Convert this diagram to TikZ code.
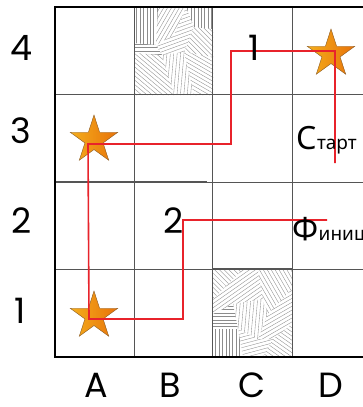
\documentclass[tikz,border=0pt]{standalone}
\usepackage{fontspec}
\setmainfont{Poppins}
\newfontfamily\cyr{Noto Sans}
\usetikzlibrary{shapes.geometric}
\definecolor{redpath}{HTML}{E8232B}
\definecolor{starL}{HTML}{F4AE1C}
\definecolor{starR}{HTML}{E8720A}
\definecolor{starE}{HTML}{8A5A22}
\definecolor{gridc}{HTML}{555555}
\definecolor{hatchc}{HTML}{8C8C8C}
\tikzset{
  gridline/.style={draw=gridc,line width=0.9pt},
  border/.style={draw=black,line width=2.8pt},
  hatchline/.style={draw=hatchc,line width=0.35pt},
  route/.style={draw=redpath,line width=1.6pt,line join=miter},
  bigstar/.style={star,star points=5,star point ratio=2.618,minimum size=50pt,inner sep=0pt,
     draw=starE,line width=0.4pt,left color=starL,right color=starR},
  axlab/.style={font=\fontsize{35}{40}\selectfont,inner sep=0pt,anchor=base},
  biglet/.style={font=\cyr\fontsize{32}{36}\selectfont,inner sep=0pt,anchor=base west},
  smalllet/.style={font=\cyr\fontsize{19}{22}\selectfont,inner sep=0pt,anchor=base west}
}
\newcommand\hpatch[2]{%
  \begin{scope}
    \clip #2 -- cycle;
    \foreach \k in {-20,...,20}{\draw[hatchline,shift={(40,44)},rotate=#1] (-70,3.4*\k) -- (70,3.4*\k);}
  \end{scope}}
\begin{document}
\begin{tikzpicture}[x=1pt,y=-1pt]
\useasboundingbox (0,0) rectangle (363,407);
\fill[white] (0,0) rectangle (363,407);
% hatched cell B4
\begin{scope}[shift={(134,7)}]
  \hpatch{90}{(0,0)--(24,0)--(22,38)--(0,36)}
  \hpatch{0}{(0,36)--(22,38)--(28,48)--(0,46)}
  \hpatch{-40}{(0,46)--(28,48)--(40,88)--(0,88)}
  \hpatch{60}{(24,0)--(52,0)--(40,28)--(22,38)}
  \hpatch{90}{(52,0)--(79,0)--(79,22)--(60,20)}
  \hpatch{20}{(22,38)--(40,28)--(52,0)--(60,20)--(50,45)--(28,48)}
  \hpatch{-45}{(60,20)--(79,22)--(79,50)--(50,45)}
  \hpatch{85}{(28,48)--(50,45)--(60,88)--(40,88)}
  \hpatch{-30}{(50,45)--(79,50)--(79,88)--(60,88)}
\end{scope}
% hatched cell C1
\begin{scope}[shift={(213,269)}]
  \hpatch{-45}{(0,0)--(30,0)--(0,30)}
  \hpatch{35}{(30,0)--(45,0)--(50,30)--(20,35)--(0,45)--(0,30)}
  \hpatch{-60}{(45,0)--(79,0)--(79,20)--(55,45)--(50,30)}
  \hpatch{0}{(0,45)--(20,35)--(25,60)--(0,60)}
  \hpatch{90}{(0,60)--(25,60)--(30,88)--(0,88)}
  \hpatch{85}{(20,35)--(50,30)--(55,45)--(45,70)--(25,60)}
  \hpatch{30}{(55,45)--(79,20)--(79,55)--(60,70)--(45,70)}
  \hpatch{15}{(25,60)--(45,70)--(60,70)--(50,88)--(30,88)}
  \hpatch{-35}{(60,70)--(79,55)--(79,88)--(50,88)}
\end{scope}
% grid
\foreach \x in {134,212,292} \draw[gridline] (\x,7) -- (\x,357);
\foreach \y in {94,182,269} \draw[gridline] (55,\y) -- (371,\y);
\draw[gridline,line width=1.8pt] (55,182) -- (207,182);
\draw[gridline,line width=1.8pt] (212,269) -- (292,269);
\draw[border] (371,7) -- (55,7) -- (55,357) -- (371,357);
% stars
\node[bigstar] (s4) at (331,54) {};
\node[bigstar] (s3) at (94,140) {};
\node[bigstar] (s1) at (94,316) {};
% route
\coordinate (r0) at (335,163);
\coordinate (r1) at (335,51);
\coordinate (r2) at (231,51);
\coordinate (r3) at (231,144);
\coordinate (r4) at (88,144);
\coordinate (r5) at (89,319);
\coordinate (r6) at (183,319);
\coordinate (r7) at (183,220);
\coordinate (r8) at (327,220);
\draw[route] (r0) -- (r1) -- (r2) -- (r3) -- (r4) -- (r5) -- (r6) -- (r7) -- (r8);
% labels in cells
\node[axlab] (lab1) at (254,60) {1};
\node[axlab] (lab2) at (174,233) {2};
\node[biglet] (stC) at (296,149) {С};
\node[smalllet] (stT) at (stC.base east) {тарт};
\node[biglet] (fiF) at (292,240) {Ф};
\node[smalllet] (fiT) at (fiF.base east) {иниш};
% axis labels
\node[axlab] (ax4) at (22,60) {4};
\node[axlab] (ax3) at (21,143) {3};
\node[axlab] (ax2) at (22,233) {2};
\node[axlab] (ax1) at (20,323) {1};
\node[axlab] (axA) at (96,397) {A};
\node[axlab] (axB) at (170,397) {B};
\node[axlab] (axC) at (252,397) {C};
\node[axlab] (axD) at (331,397) {D};
\end{tikzpicture}
\end{document}
